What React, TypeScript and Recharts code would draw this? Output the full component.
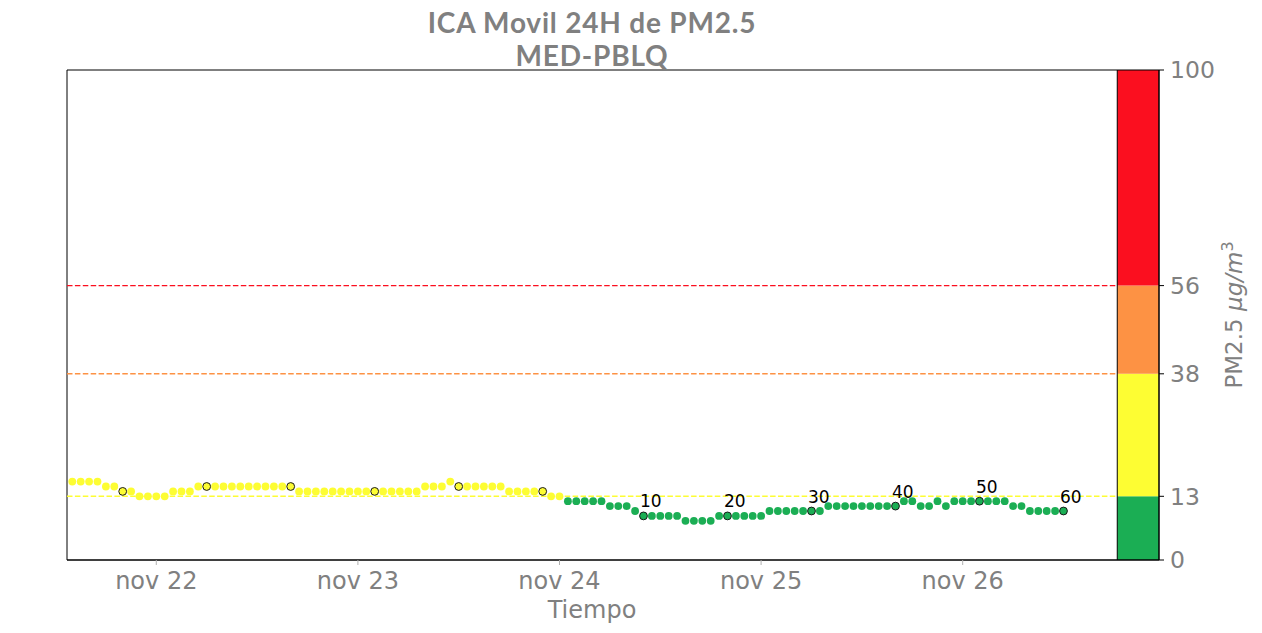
import React from 'react';
import {
  ComposedChart,
  Scatter,
  XAxis,
  YAxis,
  ReferenceLine,
  ReferenceArea,
  Label,
} from 'recharts';

// ---------- data ----------
// hourly ICA 24h moving values, first sample = nov 21 14:00 (hour -10 from nov 22 00:00)
const startHour = -10;
const values = [
  16, 16, 16, 16, 15, 15, 14, 14, 13, 13, 13, 13, 14, 14, 14,
  15, 15, 15, 15, 15, 15, 15, 15, 15, 15, 15, 15,
  14, 14, 14, 14, 14, 14, 14, 14, 14, 14, 14, 14, 14, 14, 14,
  15, 15, 15, 16, 15, 15, 15, 15, 15, 15,
  14, 14, 14, 14, 14, 13, 13,
  12, 12, 12, 12, 12, 11, 11, 11, 10,
  9, 9, 9, 9, 9, 8, 8, 8, 8, 9, 9, 9, 9, 9, 9,
  10, 10, 10, 10, 10, 10, 10,
  11, 11, 11, 11, 11, 11, 11, 11, 11,
  12, 12, 11, 11, 12, 11,
  12, 12, 12, 12, 12, 12, 12, 11, 11,
  10, 10, 10, 10, 10,
];
const markedIdx = [6, 16, 26, 36, 46, 56, 68, 78, 88, 98, 108, 118];
const labeledIdx = [68, 78, 88, 98, 108, 118];
const labelTexts = ['10', '20', '30', '40', '50', '60'];

const dayTicks = [0, 24, 48, 72, 96];
const dayLabels = ['nov 22', 'nov 23', 'nov 24', 'nov 25', 'nov 26'];

const thresholds = [0, 13, 38, 56, 100];
const bandColors = ['#1bae54', '#fdfd33', '#fd9244', '#fb0f1f'];
const lineColors = ['#fdfd33', '#fd9244', '#fb0f1f'];

const titleLines = ['ICA Movil 24H de PM2.5', 'MED-PBLQ'];
const xLabel = 'Tiempo';

// ---------- derived ----------
const points = values.map((v, i) => {
  const li = labeledIdx.indexOf(i);
  return {
    t: startHour + i,
    v,
    marked: markedIdx.includes(i),
    label: li >= 0 ? labelTexts[li] : null,
  };
});

const colorFor = (v: number) => {
  let k = 0;
  for (let j = 0; j < thresholds.length - 1; j++) if (v >= thresholds[j]) k = j;
  return bandColors[k];
};

// ---------- layout ----------
const W = 1262;
const H = 633;
const xMin = -10.63;
const xMax = 119.37;
const plotEnd = 114.4; // boundary between plot and colorbar
const FONT = "'DejaVu Sans', sans-serif";
const GRAY = '#808080';

const Dot = (props: any) => {
  const { cx, cy, payload } = props;
  if (cx == null || cy == null) return null;
  return (
    <g>
      <circle
        cx={cx}
        cy={cy}
        r={3.9}
        fill={colorFor(payload.v)}
        stroke={payload.marked ? '#1a1a1a' : 'none'}
        strokeWidth={1}
      />
      {payload.label && (
        <text x={cx - 3.5} y={cy - 8.5} fontSize={17} fontFamily={FONT} fill="#000">
          {payload.label}
        </text>
      )}
    </g>
  );
};

const TitleContent = () => (
  <g>
    <text x={592} y={32.5} textAnchor="middle" fontFamily="Lato, sans-serif" fontWeight="bold" fontSize={28} letterSpacing={0.8} fill={GRAY}>
      {titleLines[0]}
    </text>
    <text x={592} y={65.5} textAnchor="middle" fontFamily="Lato, sans-serif" fontWeight="bold" fontSize={28} letterSpacing={0.8} fill={GRAY}>
      {titleLines[1]}
    </text>
  </g>
);

const XLabelContent = () => (
  <text x={592} y={618} textAnchor="middle" fontFamily={FONT} fontSize={24} fill={GRAY}>
    {xLabel}
  </text>
);

const YLabelContent = () => (
  <text
    x={1242}
    y={315}
    textAnchor="middle"
    transform="rotate(-90 1242 315)"
    fontFamily={FONT}
    fontSize={23}
    fill={GRAY}
  >
    PM2.5{' '}
    <tspan fontStyle="italic">μg/m</tspan>
    <tspan dy="-9" fontSize={16}>3</tspan>
  </text>
);

export default function App() {
  return (
    <div style={{ position: 'absolute', left: 0, top: 0, width: W, height: H, background: '#fff' }}>
      <ComposedChart
        width={W}
        height={H}
        data={points}
        margin={{ top: 70, right: 23, bottom: 23, left: 67 }}
      >
        <XAxis
          dataKey="t"
          type="number"
          domain={[xMin, xMax]}
          allowDataOverflow
          ticks={dayTicks}
          tickFormatter={(t: number) => dayLabels[dayTicks.indexOf(t)]}
          height={50}
          tickSize={5}
          tickMargin={7}
          tickLine={{ stroke: '#b0b0b0' }}
          axisLine={{ stroke: '#000' }}
          tick={{ fill: GRAY, fontSize: 24, fontFamily: FONT }}
        >
          <Label content={<XLabelContent />} />
          <Label content={<TitleContent />} />
        </XAxis>
        <YAxis
          orientation="right"
          type="number"
          domain={[0, 100]}
          allowDataOverflow
          ticks={thresholds}
          width={80}
          tickSize={5}
          tickMargin={6}
          tickLine={{ stroke: '#000' }}
          axisLine={{ stroke: '#000' }}
          tick={{ fill: GRAY, fontSize: 23.5, fontFamily: FONT, textAnchor: 'start' }}
          interval={0}
        >
          <Label content={<YLabelContent />} />
        </YAxis>

        {bandColors.map((c, i) => (
          <ReferenceArea
            key={'band' + i}
            x1={plotEnd}
            x2={xMax}
            y1={thresholds[i]}
            y2={thresholds[i + 1]}
            fill={c}
            fillOpacity={1}
            stroke="none"
            ifOverflow="visible"
          />
        ))}
        <ReferenceArea
          x1={xMin}
          x2={xMax}
          y1={0}
          y2={100}
          fill="none"
          fillOpacity={0}
          stroke="#000"
          strokeWidth={1}
          ifOverflow="visible"
        />
        <ReferenceLine x={plotEnd} stroke="#000" strokeWidth={1} />
        {lineColors.map((c, i) => (
          <ReferenceLine
            key={'thr' + i}
            segment={[
              { x: xMin, y: thresholds[i + 1] },
              { x: plotEnd, y: thresholds[i + 1] },
            ]}
            stroke={c}
            strokeWidth={1.4}
            strokeDasharray="5.5 2.4"
          />
        ))}
        <Scatter dataKey="v" shape={<Dot />} isAnimationActive={false} />
      </ComposedChart>
    </div>
  );
}
